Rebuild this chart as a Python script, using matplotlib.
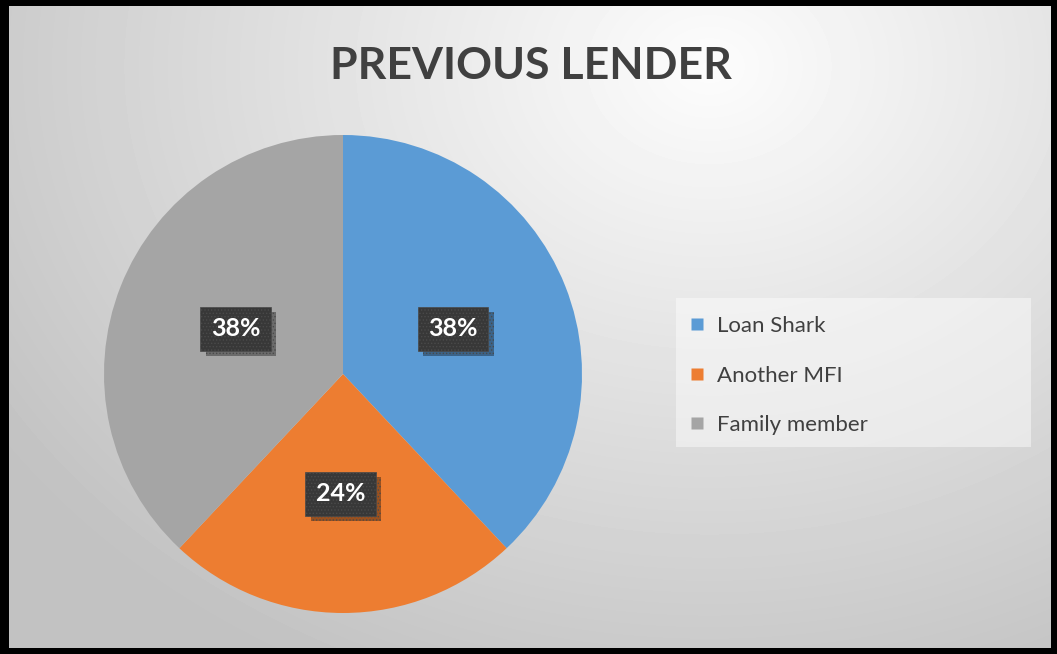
import matplotlib
matplotlib.use('Agg')
import matplotlib.pyplot as plt
import matplotlib.patheffects as pe
from matplotlib.patches import Rectangle
from matplotlib.lines import Line2D
import numpy as np

# ------ Data ------
lenders = ['Loan Shark', 'Another MFI', 'Family member']
shares = [38, 24, 38]
colours = ['#5B9BD5', '#ED7D31', '#A5A5A5']

W, H = 1057, 654
plt.rcParams['font.family'] = ['Lato', 'DejaVu Sans']
plt.rcParams['hatch.linewidth'] = 0.6

fig = plt.figure(figsize=(W / 100, H / 100), dpi=100, facecolor='black')

# ------ Background gradient ------
bg = fig.add_axes([9 / W, 6 / H, 1042 / W, 642 / H])
yy, xx = np.mgrid[0:642, 0:1042]
dist = np.sqrt(((xx - 700) / 1000.0) ** 2 + ((yy - 60) / 800.0) ** 2)
shade = np.clip(0.99 - 0.27 * dist, 0.76, 0.99)
bg.imshow(shade, cmap='gray', vmin=0, vmax=1, aspect='auto', interpolation='bilinear')
bg.set_axis_off()

# ------ Title ------
fig.text(531 / W, 1 - 66 / H, 'PREVIOUS LENDER', ha='center', va='center',
         fontsize=32, fontweight='bold', color='#404040')

# ------ Pie ------
cx, cy, r = 343, 374, 239
ax = fig.add_axes([(cx - r) / W, (H - cy - r) / H, 2 * r / W, 2 * r / H])
wedges, _ = ax.pie(shares, colors=colours, startangle=90, counterclock=False,
                   radius=1, wedgeprops=dict(edgecolor='none'))
ax.set_xlim(-1, 1)
ax.set_ylim(-1, 1)
ax.set_aspect('auto')
ax.set_axis_off()

# value labels in dark stippled boxes with a drop shadow
label_pos = [(0.46, 0.19), (-0.01, -0.50), (-0.45, 0.19)]
for (x, y), val in zip(label_pos, shares):
    t = ax.text(x, y, f'{val}%', ha='center', va='center', fontsize=18,
                fontweight='bold', color='white',
                bbox=dict(boxstyle='square,pad=0.42', facecolor='#383838',
                          edgecolor='#4a4a4a', linewidth=0.5, hatch='.....'))
    t.get_bbox_patch().set_path_effects([
        pe.SimplePatchShadow(offset=(4, -4), shadow_rgbFace='black', alpha=0.35),
        pe.Normal()])

# ------ Legend ------
fig.patches.append(Rectangle((676 / W, 1 - 447 / H), 355 / W, 149 / H,
                             transform=fig.transFigure, facecolor='white',
                             alpha=0.45, edgecolor='none'))
handles = [Line2D([], [], marker='s', linestyle='none', markersize=8,
                  markerfacecolor=c, markeredgecolor='none') for c in colours]
fig.legend(handles, lenders, loc='upper left', bbox_to_anchor=(678 / W, 1 - 305 / H),
           frameon=False, fontsize=16, labelcolor='#404040', handlelength=0.7,
           handletextpad=0.55, labelspacing=1.33, borderpad=0)

fig.savefig('out.png', dpi=100, facecolor='black')
